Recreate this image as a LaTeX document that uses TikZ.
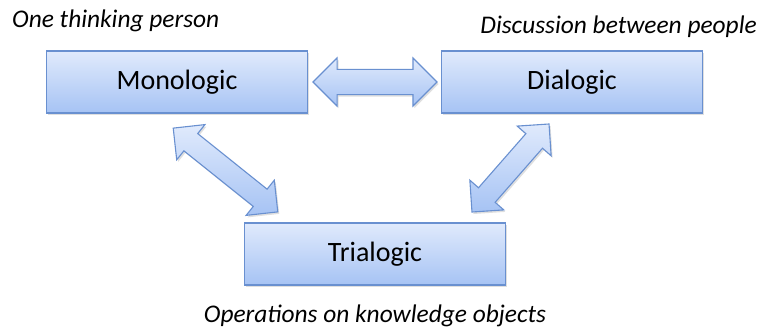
\documentclass[tikz,border=0pt]{standalone}
\usepackage{fontspec}
\setmainfont{Carlito}
\usetikzlibrary{shapes.arrows,shadows}
\definecolor{boxtop}{RGB}{224,234,252}
\definecolor{boxbottom}{RGB}{166,195,244}
\definecolor{boxline}{RGB}{105,144,208}
\tikzset{
  blockbox/.style={rectangle, draw=boxline, line width=1.2pt,
    top color=boxtop, bottom color=boxbottom,
    minimum width=261pt, minimum height=62pt, inner sep=0pt,
    font=\fontsize{28}{32}\selectfont,
    drop shadow={opacity=0.25, shadow xshift=1.5pt, shadow yshift=-2pt}},
  blockarrow/.style={double arrow, draw=boxline, line width=1.1pt,
    top color=boxtop, bottom color=boxbottom,
    inner xsep=0pt, double arrow head extend=11.5pt,
    drop shadow={opacity=0.25, shadow xshift=1.5pt, shadow yshift=-2pt}},
  caption/.style={inner sep=0pt, font=\fontsize{25.4}{30}\selectfont\itshape}
}
\begin{document}
\begin{tikzpicture}[x=1pt,y=-1pt]
\useasboundingbox (0,0) rectangle (760,329);

% three activity boxes
\node[blockbox] (mono) at (177,82) {\raisebox{-2pt}{Monologic}};
\node[blockbox] (dia)  at (572,82) {\raisebox{-2pt}{Dialogic}};
\node[blockbox] (tri)  at (375,254) {\raisebox{-2pt}{Trialogic}};

% block arrows joining the boxes
\node[blockarrow, minimum height=124pt, inner ysep=12pt] (monodia) at (375,82) {};
\node[blockarrow, minimum height=134pt, inner ysep=10.5pt, rotate=-38.7] (monotri) at (225.5,170) {};
\node[blockarrow, minimum height=117pt, inner ysep=10.5pt, rotate=48.8] (diatri) at (510.5,168) {};

% captions
\node[caption, anchor=west] (cmono) at (12,21) {One thinking person};
\node[caption, anchor=east] (cdia) at (757,27) {Discussion between people};
\node[caption] (ctri) at (375,316) {Operations on knowledge objects};
\end{tikzpicture}
\end{document}
